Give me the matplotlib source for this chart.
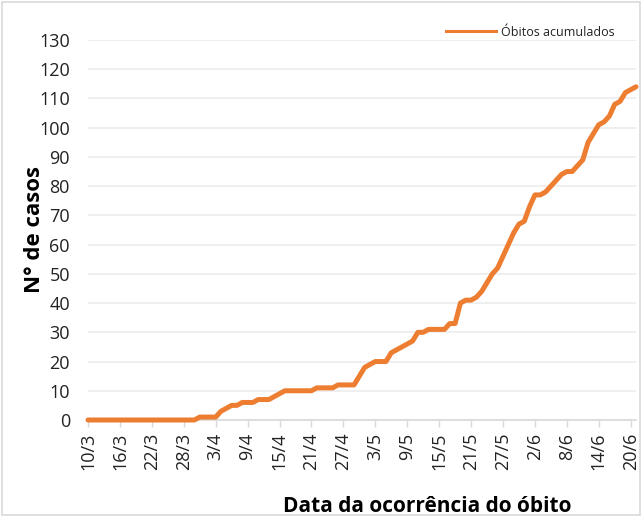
import matplotlib
matplotlib.use("Agg")
import matplotlib.pyplot as plt
from matplotlib.lines import Line2D
import numpy as np
import pandas as pd
from matplotlib.patches import Rectangle

# cumulative deaths per day, starting 10/3
obitos = [0] * 21 + [
    1, 1, 1, 1,
    3, 4, 5, 5,
    6, 6, 6,
    7, 7, 7,
    8, 9,
    10, 10, 10, 10, 10, 10,
    11, 11, 11, 11,
    12, 12, 12, 12,
    15, 18, 19, 20, 20, 20,
    23, 24, 25, 26, 27, 30, 30, 31, 31, 31, 31,
    33, 33, 40, 41, 41, 42, 44, 47, 50, 52, 56, 60, 64, 67, 68, 73,
    77, 77, 78, 80, 82, 84, 85, 85, 87, 89, 95, 98, 101, 102, 104,
    108, 109, 112, 113, 114,
]
start_date = "2020-03-10"
tick_step = 6
yticks = list(range(0, 131, 10))
serie_label = "Óbitos acumulados"
xlabel = "Data da ocorrência do óbito"
ylabel = "N° de casos"

dates = pd.date_range(start_date, periods=len(obitos), freq="D")
ticks = dates[::tick_step]
ticklabels = [f"{d.day}/{d.month}" for d in ticks]

plt.rcParams['font.family'] = ['Open Sans', 'DejaVu Sans']
orange = "#ED7D31"

W, H = 642, 517
fig = plt.figure(figsize=(W / 100, H / 100), dpi=100)
ax = fig.add_axes([88 / W, (H - 420) / H, (636 - 88) / W, 380 / H])

ax.plot(dates, obitos, color=orange, lw=3.6, solid_joinstyle="round",
        solid_capstyle="round", clip_on=False, zorder=3)

ax.set_xlim(dates[0], dates[-1])
ax.set_ylim(0, 130)
ax.set_yticks(yticks)
ax.set_xticks(ticks)
ax.set_xticklabels(ticklabels, rotation=90)
ax.grid(axis="y", color="#ececec", lw=1.2)
ax.set_axisbelow(True)

for s in ["top", "right", "left"]:
    ax.spines[s].set_visible(False)
ax.spines["bottom"].set_color("#d9d9d9")
ax.spines["bottom"].set_linewidth(1.2)
ax.tick_params(axis="y", length=0, labelsize=13, pad=13, labelcolor="#222222")
ax.tick_params(axis="x", length=5, color="#d9d9d9", width=1.0, labelsize=13,
               pad=4, labelcolor="#222222")

fig.text(35 / W, 1 - 230 / H, ylabel, fontsize=16, fontweight="bold",
         rotation=90, ha="center", va="center")
fig.text(427 / W, 1 - 507 / H, xlabel, fontsize=15, fontweight="bold",
         ha="center", va="center")

handle = Line2D([], [], color=orange, lw=2.2)
fig.legend(handles=[handle], labels=[serie_label], loc="center right",
           bbox_to_anchor=(626 / W, 1 - 32 / H), frameon=False, fontsize=9,
           handlelength=4.0, handletextpad=0.4, labelcolor="#222222")

fig.patches.append(Rectangle((2 / W, 2 / H), 1 - 4 / W, 1 - 4 / H,
                             transform=fig.transFigure, fill=False,
                             edgecolor="#d9d9d9", lw=1.2))

fig.savefig("out.png", dpi=100, facecolor="white")
